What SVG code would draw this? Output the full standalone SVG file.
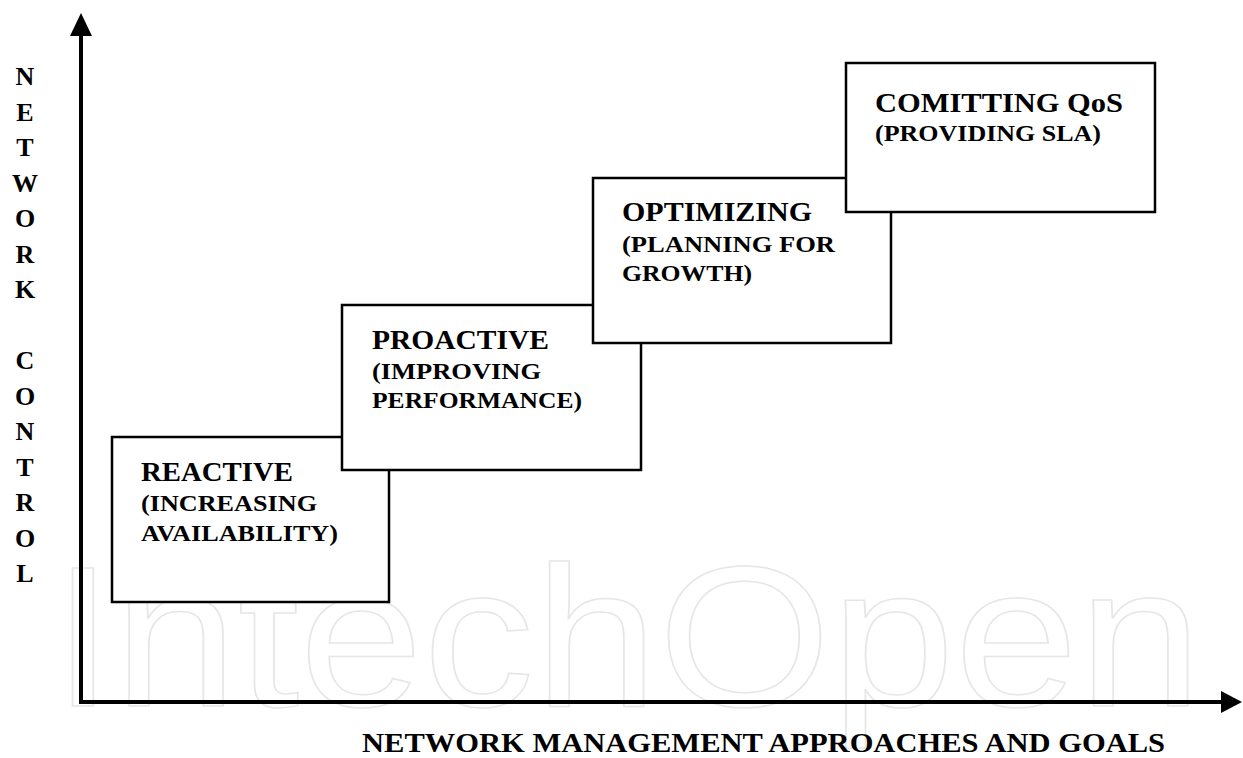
<svg xmlns="http://www.w3.org/2000/svg" width="1243" height="758" viewBox="0 0 1243 758">
<style>
.wm{font-family:"Liberation Sans",Arial,sans-serif;font-size:200px;fill:none;stroke:#e6e6e6;stroke-width:1.5}
.box{fill:#fff;stroke:#000;stroke-width:2.5}
.axis{stroke:#000;stroke-width:4;fill:none}
.head{fill:#000}
.t{font-family:"Liberation Serif","Times New Roman",serif;font-weight:bold;fill:#000}
.h1{font-size:28px}
.h2{font-size:23px}
.v{font-size:26px;text-anchor:middle}
.xl{font-size:27px}
</style>
<rect width="1243" height="758" fill="#fff"/>
<text class="wm" x="52" y="706" textLength="1150" lengthAdjust="spacingAndGlyphs">IntechOpen</text>
<g id="connectors">
<line class="axis" x1="81" y1="34" x2="81" y2="704"/>
<polygon class="head" points="81,13 70,36 92,36"/>
<line class="axis" x1="79" y1="702" x2="1224" y2="702"/>
<polygon class="head" points="1242,702 1221,691 1221,713"/>
</g>
<g id="y-label" class="t v">
<text x="25" y="85">N</text>
<text x="25" y="120.5">E</text>
<text x="25" y="156">T</text>
<text x="25" y="191.5">W</text>
<text x="25" y="227">O</text>
<text x="25" y="262.5">R</text>
<text x="25" y="298">K</text>
<text x="25" y="369">C</text>
<text x="25" y="404.5">O</text>
<text x="25" y="440">N</text>
<text x="25" y="475.5">T</text>
<text x="25" y="511">R</text>
<text x="25" y="546.5">O</text>
<text x="25" y="582">L</text>
</g>
<g id="x-label">
<text class="t xl" x="362" y="752" textLength="803" lengthAdjust="spacingAndGlyphs">NETWORK MANAGEMENT APPROACHES AND GOALS</text>
</g>
<g id="reactive">
<rect class="box" x="112" y="437" width="277" height="165"/>
<text class="t h1" x="141" y="481" textLength="152" lengthAdjust="spacingAndGlyphs">REACTIVE</text>
<text class="t h2" x="141" y="511" textLength="176" lengthAdjust="spacingAndGlyphs">(INCREASING</text>
<text class="t h2" x="141" y="541" textLength="197" lengthAdjust="spacingAndGlyphs">AVAILABILITY)</text>
</g>
<g id="proactive">
<rect class="box" x="342" y="305" width="299" height="165"/>
<text class="t h1" x="372" y="349" textLength="177" lengthAdjust="spacingAndGlyphs">PROACTIVE</text>
<text class="t h2" x="372" y="379" textLength="169" lengthAdjust="spacingAndGlyphs">(IMPROVING</text>
<text class="t h2" x="372" y="408" textLength="210" lengthAdjust="spacingAndGlyphs">PERFORMANCE)</text>
</g>
<g id="optimizing">
<rect class="box" x="593" y="178" width="298" height="165"/>
<text class="t h1" x="622" y="221" textLength="190" lengthAdjust="spacingAndGlyphs">OPTIMIZING</text>
<text class="t h2" x="622" y="252" textLength="213" lengthAdjust="spacingAndGlyphs">(PLANNING FOR</text>
<text class="t h2" x="622" y="281" textLength="130" lengthAdjust="spacingAndGlyphs">GROWTH)</text>
</g>
<g id="comitting">
<rect class="box" x="846" y="63" width="309" height="149"/>
<text class="t h1" x="875" y="112" textLength="248" lengthAdjust="spacingAndGlyphs">COMITTING QoS</text>
<text class="t h2" x="875" y="141" textLength="226" lengthAdjust="spacingAndGlyphs">(PROVIDING SLA)</text>
</g>
</svg>
